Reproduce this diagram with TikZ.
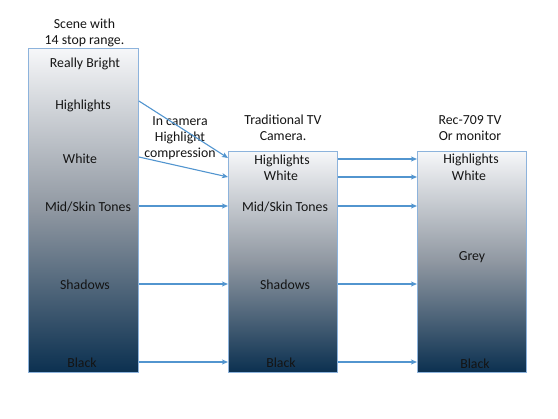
\documentclass[tikz,border=0pt]{standalone}
\usepackage{fontspec}
\setmainfont{Carlito}
\usetikzlibrary{arrows.meta}
\definecolor{boxedge}{HTML}{8DB3DC}
\definecolor{arrowblue}{HTML}{5295CF}
\definecolor{topc}{HTML}{F6F7F9}
\definecolor{midc}{HTML}{8F97A1}
\definecolor{botc}{HTML}{0B3050}
\definecolor{txt}{HTML}{141414}
\tikzset{
  grad/.style={draw=boxedge, line width=0.9pt, top color=topc, bottom color=botc, middle color=midc, inner sep=0pt, anchor=north west},
  lbl/.style={font=\fontsize{13.8}{16}\selectfont, text=txt, inner sep=0pt, text height=12pt, text depth=0pt, align=center},
  arr/.style={draw=arrowblue, line width=1.1pt, -{Stealth[length=6pt,width=5pt,inset=1.5pt]}}
}
\begin{document}
\begin{tikzpicture}[x=1pt,y=-1pt]
\useasboundingbox (0,0) rectangle (558,419);
% boxes
\node[grad, minimum width=110pt, minimum height=324pt] (L) at (28,48) {};
\node[grad, minimum width=109pt, minimum height=221pt] (M) at (228,151) {};
\node[grad, minimum width=109pt, minimum height=221pt] (R) at (417,151) {};
% titles
\node[lbl] (tL1) at (84.5,23) {Scene with};
\node[lbl] (tL2) at (84.5,39) {14 stop range.};
\node[lbl] (tM1) at (283,119) {Traditional TV};
\node[lbl] (tM2) at (283,135) {Camera.};
\node[lbl] (tR1) at (470,119) {Rec-709 TV};
\node[lbl] (tR2) at (470,135) {Or monitor};
\node[lbl] (cmp1) at (180,120) {In camera};
\node[lbl] (cmp2) at (180,136) {Highlight};
\node[lbl] (cmp3) at (180,152) {compression};
% left labels
\node[lbl] (lRB) at (85,62) {Really Bright};
\node[lbl] (lHi) at (83,104) {Highlights};
\node[lbl] (lWh) at (80,158) {White};
\node[lbl] (lMid) at (88,206) {Mid/Skin Tones};
\node[lbl] (lSh) at (85,284) {Shadows};
\node[lbl] (lBl) at (82,362) {Black};
% middle labels
\node[lbl] (mHi) at (282,159) {Highlights};
\node[lbl] (mWh) at (281,175) {White};
\node[lbl] (mMid) at (285,206) {Mid/Skin Tones};
\node[lbl] (mSh) at (285,284) {Shadows};
\node[lbl] (mBl) at (281,362) {Black};
% right labels
\node[lbl] (rHi) at (471,158) {Highlights};
\node[lbl] (rWh) at (469,175) {White};
\node[lbl] (rGr) at (472,255) {Grey};
\node[lbl] (rBl) at (475,363) {Black};
% arrows left -> middle
\coordinate (aHiS) at (lHi -| L.east);
\coordinate (aHiE) at (mHi -| M.west);
\draw[arr] ([yshift=3pt]aHiS) -- ([yshift=1pt]aHiE);
\draw[arr] ([yshift=1pt]lWh -| L.east) -- ([yshift=-2pt]mWh -| M.west);
\draw[arr] (lMid -| L.east) -- (mMid -| M.west);
\draw[arr] (lSh -| L.east) -- (mSh -| M.west);
\draw[arr] (lBl -| L.east) -- (mBl -| M.west);
% arrows middle -> right
\draw[arr] (mHi -| M.east) -- (mHi -| R.west);
\draw[arr] ([yshift=-2pt]mWh -| M.east) -- ([yshift=-2pt]mWh -| R.west);
\draw[arr] (mMid -| M.east) -- (mMid -| R.west);
\draw[arr] (mSh -| M.east) -- (mSh -| R.west);
\draw[arr] (mBl -| M.east) -- (mBl -| R.west);
\end{tikzpicture}
\end{document}
